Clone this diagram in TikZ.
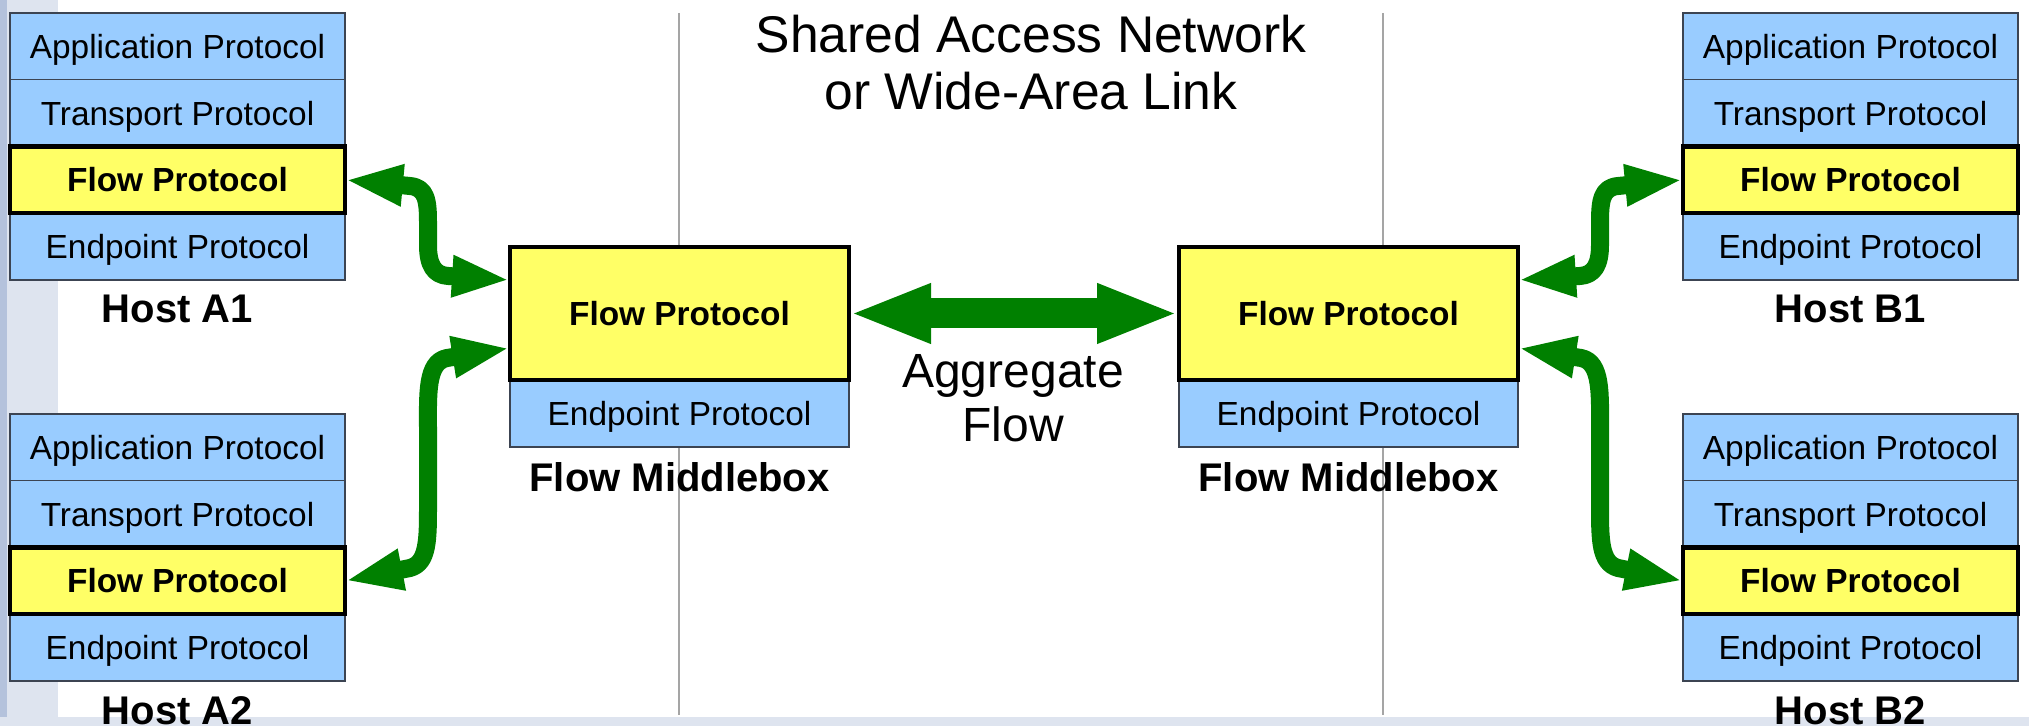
\documentclass[tikz,border=0pt]{standalone}
\usepackage{fontspec}
\setmainfont{Liberation Sans}
\usetikzlibrary{arrows.meta}
\definecolor{layerblue}{RGB}{153,204,255}
\definecolor{flowyellow}{RGB}{255,255,102}
\definecolor{arrowgreen}{RGB}{0,128,0}
\definecolor{edgegray}{RGB}{60,68,82}
\definecolor{sepgray}{RGB}{165,165,165}
\definecolor{bgdark}{RGB}{180,194,220}
\definecolor{bglight}{RGB}{222,228,239}
\tikzset{
  layer/.style={draw=edgegray, line width=0.6pt, fill=layerblue,
    minimum width=167.5pt, minimum height=33.375pt, inner sep=0pt, outer sep=0pt,
    text height=11.9pt, text depth=0pt, font=\fontsize{16.7pt}{19pt}\selectfont},
  flowlayer/.style={layer, draw=black, line width=2.2pt, fill=flowyellow,
    font=\fontsize{16.7pt}{19pt}\selectfont\bfseries},
  mbflow/.style={flowlayer, minimum width=169.5pt, minimum height=66.5pt},
  mbend/.style={layer, minimum width=169.5pt, minimum height=33.5pt},
  boldlabel/.style={anchor=base, inner sep=0pt, font=\fontsize{20pt}{23pt}\selectfont\bfseries},
  sepline/.style={draw=sepgray, line width=0.7pt},
  sidearrow/.style={draw=arrowgreen, line width=9pt, line join=round,
    {Triangle[length=29pt,width=19pt]}-{Triangle[length=29pt,width=19pt]}},
  bigarrow/.style={draw=arrowgreen, line width=15pt,
    {Triangle[length=41pt,width=27pt]}-{Triangle[length=41pt,width=27pt]}},
}
\newcommand{\hoststack}[3]{%
  \node[layer] (#1app) at (#2,{#3+33.375}) {Application Protocol};
  \node[layer] (#1tr) at (#2,{#3+100.125}) {Transport Protocol};
  \node[layer] (#1ep) at (#2,{#3+233.625}) {Endpoint Protocol};
  \node[flowlayer] (#1fl) at (#2,{#3+166.875}) {Flow Protocol};
}
\begin{document}
\begin{tikzpicture}[x=0.5pt,y=-0.5pt]
\useasboundingbox (0,0) rectangle (2029,726);
% slide background remnants
\fill[bglight] (0,0) rectangle (58,726);
\fill[bgdark] (0,0) rectangle (7,726);
\fill[bglight] (0,717) rectangle (2029,726);
% separators
\draw[sepline] (679,13) -- (679,715);
\draw[sepline] (1383,13) -- (1383,715);
% title
\node[anchor=north, align=center, inner sep=0pt,
  font=\fontsize{25.8pt}{28.5pt}\selectfont] (title) at (1031,15)
  {Shared Access Network\\or Wide-Area Link};
% hosts
\hoststack{A1}{177.5}{13}
\hoststack{A2}{177.5}{414}
\hoststack{B1}{1850.5}{13}
\hoststack{B2}{1850.5}{414}
\node[boldlabel] (A1lbl) at (177.5,323) {Host A1};
\node[boldlabel] (A2lbl) at (177.5,724) {Host A2};
\node[boldlabel] (B1lbl) at (1850.5,323) {Host B1};
\node[boldlabel] (B2lbl) at (1850.5,724) {Host B2};
% middleboxes
\node[mbend] (MB1ep) at (679.5,413.5) {Endpoint Protocol};
\node[mbflow] (MB1) at (679.5,313.5) {Flow Protocol};
\node[mbend] (MB2ep) at (1348.5,413.5) {Endpoint Protocol};
\node[mbflow] (MB2) at (1348.5,313.5) {Flow Protocol};
\node[boldlabel] (MB1lbl) at (679.5,492) {Flow Middlebox};
\node[boldlabel] (MB2lbl) at (1348.5,492) {Flow Middlebox};
% aggregate flow
\draw[bigarrow] (MB1.east) -- (MB2.west);
\node[anchor=north, align=center, inner sep=0pt,
  font=\fontsize{24pt}{27pt}\selectfont] (agg) at (1013,354)
  {Aggregate\\Flow};
% side arrows
\draw[sidearrow] (A1fl.east) -- (410,186) .. controls (426,187.5) and (428,200) .. (428,222)
  -- (428,245) .. controls (428,265) and (434,275) .. (448,276) -- ([yshift=16.75pt]MB1.west);
\draw[sidearrow] ([yshift=-17.25pt]MB1.west) -- (447,358) .. controls (426,362) and (428,395) .. (428,430)
  -- (428,505) .. controls (428,540) and (428,563) .. (410,568) -- (A2fl.east);
\draw[sidearrow] (B1fl.west) -- (1618,186) .. controls (1602,187.5) and (1600,200) .. (1600,222)
  -- (1600,245) .. controls (1600,265) and (1594,275) .. (1580,276) -- ([yshift=16.75pt]MB2.east);
\draw[sidearrow] ([yshift=-17.25pt]MB2.east) -- (1581,358) .. controls (1602,362) and (1600,395) .. (1600,430)
  -- (1600,505) .. controls (1600,540) and (1600,563) .. (1618,568) -- (B2fl.west);
\end{tikzpicture}
\end{document}
